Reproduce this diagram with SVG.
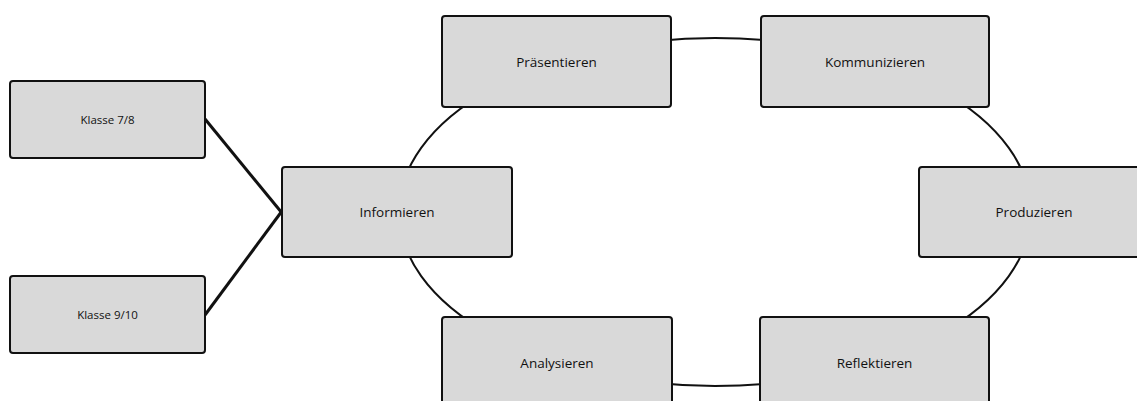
<svg xmlns="http://www.w3.org/2000/svg" width="1137" height="401" viewBox="0 0 1137 401">
  <style>
    .box { fill: #d9d9d9; stroke: #111; stroke-width: 2; }
    .lbl { font-family: "Open Sans", "Liberation Sans", sans-serif; font-size: 13.5px; fill: #111; text-anchor: middle; dominant-baseline: central; }
    .sm { font-size: 11.5px; }
    .conn { fill: none; stroke: #111; }
  </style>
  <rect width="1137" height="401" fill="#ffffff"/>
  <g id="connectors">
    <ellipse class="conn" cx="715" cy="212" rx="316" ry="174" stroke-width="2"/>
    <line class="conn" x1="205" y1="119" x2="282" y2="213" stroke-width="3"/>
    <line class="conn" x1="205" y1="315" x2="282" y2="211" stroke-width="3"/>
  </g>
  <g id="klasse78">
    <rect class="box" x="10" y="81" width="195" height="77" rx="3"/>
    <text class="lbl sm" x="107.5" y="119.5">Klasse 7/8</text>
  </g>
  <g id="klasse910">
    <rect class="box" x="10" y="276" width="195" height="77" rx="3"/>
    <text class="lbl sm" x="107.5" y="314.5">Klasse 9/10</text>
  </g>
  <g id="informieren">
    <rect class="box" x="282" y="167" width="230" height="90" rx="3"/>
    <text class="lbl" x="397" y="212">Informieren</text>
  </g>
  <g id="praesentieren">
    <rect class="box" x="442" y="16" width="229" height="91" rx="3"/>
    <text class="lbl" x="556.5" y="61.5">Präsentieren</text>
  </g>
  <g id="kommunizieren">
    <rect class="box" x="761" y="16" width="228" height="91" rx="3"/>
    <text class="lbl" x="875" y="61.5">Kommunizieren</text>
  </g>
  <g id="produzieren">
    <rect class="box" x="919" y="167" width="230" height="90" rx="3"/>
    <text class="lbl" x="1034" y="212">Produzieren</text>
  </g>
  <g id="analysieren">
    <rect class="box" x="442" y="317" width="230" height="91" rx="3"/>
    <text class="lbl" x="557" y="362.5">Analysieren</text>
  </g>
  <g id="reflektieren">
    <rect class="box" x="760" y="317" width="229" height="91" rx="3"/>
    <text class="lbl" x="874.5" y="362.5">Reflektieren</text>
  </g>
</svg>
